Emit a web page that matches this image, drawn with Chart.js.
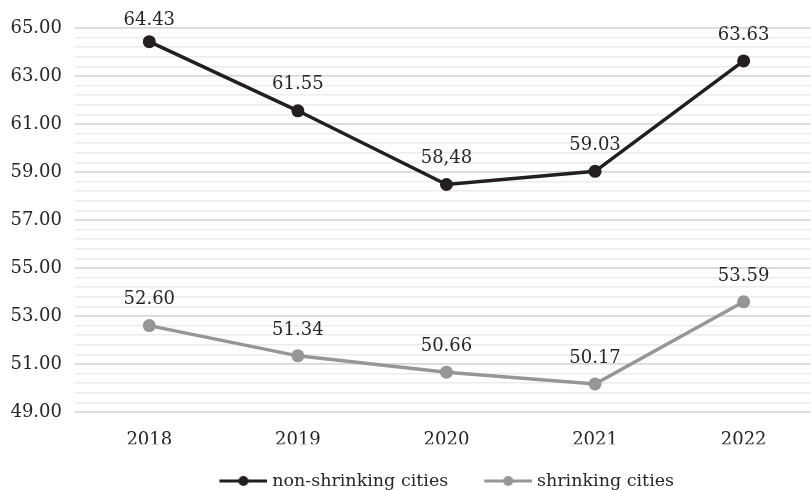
<!DOCTYPE html>
<html>
<head>
<meta charset="utf-8">
<script src="https://cdn.jsdelivr.net/npm/chart.js@4/dist/chart.umd.min.js"></script>
<style>
  html, body { margin: 0; padding: 0; background: #fff; overflow: hidden; }
  canvas { display: block; }
</style>
</head>
<body>
<!-- the canvas runs a little past the window so the grid reaches the right edge -->
<canvas id="chart" width="817" height="490"></canvas>
<script>
// Years on the horizontal axis
const years = [2018, 2019, 2020, 2021, 2022];

// Index values per group of cities
const nonShrinking = [64.43, 61.55, 58.48, 59.03, 63.63];
const shrinking = [52.60, 51.34, 50.66, 50.17, 53.59];

// Value labels written next to each point
const nonShrinkingText = ['64.43', '61.55', '58,48', '59.03', '63.63'];
const shrinkingText = ['52.60', '51.34', '50.66', '50.17', '53.59'];

// Vertical axis range: light lines every 0.4, labelled lines every 2
const yMin = 49;
const yMax = 65;
const yMinorStep = 0.4;
const yLabelEvery = 5;

const seriesNames = ['non-shrinking cities', 'shrinking cities'];
const seriesColors = ['#231f20', '#969696'];

const FONT = '"DejaVu Serif", "Liberation Serif", serif';
const TEXT = '#262626';

// Legend marker: a short line with a dot, drawn at the right end of a wider transparent canvas
const LEGEND_BOX = 52;
function legendMarker(color) {
  const c = document.createElement('canvas');
  c.width = LEGEND_BOX + 8;
  c.height = 14;
  const g = c.getContext('2d');
  const x0 = c.width - 48;
  g.strokeStyle = color;
  g.lineWidth = 3;
  g.beginPath();
  g.moveTo(x0, 7);
  g.lineTo(c.width, 7);
  g.stroke();
  g.fillStyle = color;
  g.beginPath();
  g.arc(x0 + 24, 7, 5, 0, Math.PI * 2);
  g.fill();
  return c;
}

// Writes the value text above every point
const pointLabels = {
  id: 'pointLabels',
  afterDatasetsDraw(chart) {
    const texts = [nonShrinkingText, shrinkingText];
    const ctx = chart.ctx;
    ctx.save();
    ctx.font = '18px ' + FONT;
    ctx.fillStyle = TEXT;
    ctx.textAlign = 'center';
    ctx.textBaseline = 'middle';
    chart.data.datasets.forEach((ds, i) => {
      chart.getDatasetMeta(i).data.forEach((pt, j) => {
        ctx.fillText(texts[i][j], pt.x, Math.max(pt.y - 26, 20));
      });
    });
    ctx.restore();
  }
};

function toPoints(values) {
  return years.map((y, i) => ({ x: y, y: values[i] }));
}

function lineDataset(label, values, color) {
  return {
    label,
    data: toPoints(values),
    borderColor: color,
    backgroundColor: color,
    borderWidth: 3.5,
    pointRadius: 6.5,
    pointBackgroundColor: color,
    pointBorderWidth: 0,
    tension: 0,
    fill: false
  };
}

new Chart(document.getElementById('chart'), {
  type: 'line',
  data: {
    datasets: [
      lineDataset(seriesNames[0], nonShrinking, seriesColors[0]),
      lineDataset(seriesNames[1], shrinking, seriesColors[1])
    ]
  },
  options: {
    responsive: false,
    animation: false,
    devicePixelRatio: 1,
    layout: { padding: { top: 28, left: 0, right: 0, bottom: 0 } },
    scales: {
      x: {
        type: 'linear',
        min: years[0] - 0.5,
        max: years[years.length - 1] + 0.45,
        afterBuildTicks: s => { s.ticks = years.map(v => ({ value: v })); },
        afterFit: s => { s.height = 32.25; },
        grid: { display: false },
        border: { display: false },
        ticks: {
          callback: v => String(v),
          color: TEXT,
          font: { family: FONT, size: 18 },
          padding: 10,
          maxRotation: 0
        }
      },
      y: {
        min: yMin,
        max: yMax,
        afterBuildTicks: s => {
          const n = Math.round((yMax - yMin) / yMinorStep);
          const t = [];
          for (let k = 0; k <= n; k++) t.push({ value: Math.round((yMin + k * yMinorStep) * 100) / 100 });
          s.ticks = t;
        },
        afterFit: s => { s.width = 75; },
        border: { display: false },
        grid: {
          drawTicks: false,
          color: c => (c.index % yLabelEvery === 0 ? '#d9d9d9' : '#ececec'),
          lineWidth: c => (c.index % yLabelEvery === 0 ? 1.8 : 1.5)
        },
        ticks: {
          autoSkip: false,
          callback: (v, i) => (i % yLabelEvery === 0 ? Number(v).toFixed(2) : ''),
          color: TEXT,
          font: { family: FONT, size: 18 },
          padding: 13
        }
      }
    },
    plugins: {
      tooltip: { enabled: false },
      legend: {
        position: 'bottom',
        fullSize: false,
        maxHeight: 45.75,
        labels: {
          usePointStyle: true,
          pointStyleWidth: LEGEND_BOX,
          boxHeight: 14,
          padding: 28,
          color: TEXT,
          font: { family: FONT, size: 17.5 },
          generateLabels: chart => chart.data.datasets.map((ds, i) => ({
            text: ds.label,
            pointStyle: legendMarker(seriesColors[i]),
            fillStyle: seriesColors[i],
            strokeStyle: seriesColors[i],
            lineWidth: 0,
            fontColor: TEXT,
            hidden: false,
            datasetIndex: i
          }))
        }
      }
    }
  },
  plugins: [pointLabels]
});
</script>
</body>
</html>
